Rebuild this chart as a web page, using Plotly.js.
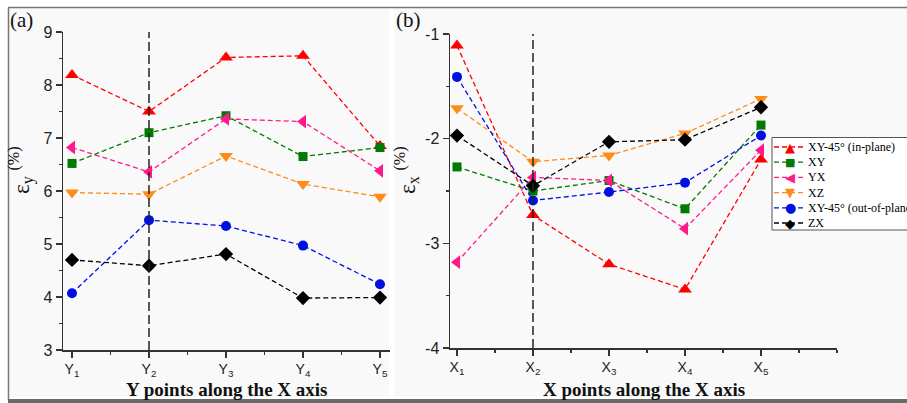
<!DOCTYPE html>
<html>
<head>
<meta charset="utf-8">
<script src="https://cdn.plot.ly/plotly-3.0.1.min.js"></script>
<style>html,body{margin:0;padding:0;background:#fff;overflow:hidden;}#chart{width:907px;height:403px;}</style>
</head>
<body>
<div id="chart"></div>
<script>
// ---------- data ----------
const positions = [1, 2, 3, 4, 5];
const yPointLabels = ["Y<sub>1</sub>", "Y<sub>2</sub>", "Y<sub>3</sub>", "Y<sub>4</sub>", "Y<sub>5</sub>"];
const xPointLabels = ["X<sub>1</sub>", "X<sub>2</sub>", "X<sub>3</sub>", "X<sub>4</sub>", "X<sub>5</sub>"];
const seriesNames = ["XY-45° (in-plane)", "XY", "YX", "XZ", "XY-45° (out-of-plane)", "ZX"];
const xTitleA = "Y points along the X axis";
const xTitleB = "X points along the X axis";

// panel (a): epsilon_y (%) at Y points
const epsY_XY45in  = [8.19, 7.50, 8.52, 8.55, 6.85];
const epsY_XY      = [6.52, 7.10, 7.42, 6.65, 6.82];
const epsY_YX      = [6.82, 6.36, 7.36, 7.31, 6.38];
const epsY_XZ      = [5.97, 5.94, 6.66, 6.13, 5.89];
const epsY_XY45out = [4.07, 5.45, 5.34, 4.97, 4.24];
const epsY_ZX      = [4.70, 4.59, 4.81, 3.98, 3.99];

// panel (b): epsilon_x (%) at X points
const epsX_XY45in  = [-1.11, -2.73, -3.20, -3.44, -2.20];
const epsX_XY      = [-2.27, -2.50, -2.40, -2.67, -1.87];
const epsX_YX      = [-3.18, -2.37, -2.40, -2.86, -2.11];
const epsX_XZ      = [-1.71, -2.22, -2.16, -1.95, -1.62];
const epsX_XY45out = [-1.41, -2.59, -2.51, -2.42, -1.97];
const epsX_ZX      = [-1.97, -2.45, -2.03, -2.01, -1.70];

const yTickVals = [3, 4, 5, 6, 7, 8, 9];
const xTickValsB = [-4, -3, -2, -1];
const xTickTextB = ["-4", "-3", "-2", "-1"];
const refPosition = 2;

// ---------- styles ----------
const colors = ["#ff0000", "#007a00", "#ff1a8c", "#ff8c1a", "#0010e0", "#000000"];
const symbols = ["triangle-up", "square", "triangle-left", "triangle-down", "circle", "diamond"];
const legendGlyphs = ["▲", "■", "◀", "▼", "●", "◆"];
const msizes = [12, 9, 12, 12, 10, 11];
const leftSets = [epsY_XY45in, epsY_XY, epsY_YX, epsY_XZ, epsY_XY45out, epsY_ZX];
const rightSets = [epsX_XY45in, epsX_XY, epsX_YX, epsX_XZ, epsX_XY45out, epsX_ZX];

const traces = [];
for (let i = 0; i < seriesNames.length; i++) {
  traces.push({
    x: positions, y: leftSets[i], xaxis: "x", yaxis: "y", type: "scatter", mode: "lines+markers",
    name: seriesNames[i], showlegend: false,
    line: {color: colors[i], width: 1.3, dash: "5px,3px"},
    marker: {color: colors[i], symbol: symbols[i], size: msizes[i]}
  });
}
for (let i = 0; i < seriesNames.length; i++) {
  traces.push({
    x: positions, y: rightSets[i], xaxis: "x2", yaxis: "y2", type: "scatter", mode: "lines+markers",
    name: seriesNames[i], showlegend: false,
    line: {color: colors[i], width: 1.3, dash: "5px,3px"},
    marker: {color: colors[i], symbol: symbols[i], size: msizes[i]}
  });
}

const W = 907, H = 403;
const px = v => v / W;
const py = v => 1 - v / H;
const serif = "Liberation Serif, Times New Roman, serif";
const sans = "Liberation Sans, Arial, sans-serif";

const axisCommon = {
  showline: true, linecolor: "#333", linewidth: 1.5, mirror: false,
  showgrid: false, zeroline: false, ticks: "outside", ticklen: 6, tickwidth: 1.5, tickcolor: "#333",
  tickfont: {family: sans, size: 16, color: "#222"},
  automargin: false, fixedrange: true
};
const minorY = {ticks: "outside", ticklen: 3, tickwidth: 1.5, tickcolor: "#333", showgrid: false, dtick: 0.5};
const titleFont = {family: serif, size: 19, color: "#111", weight: "bold"};

const shapes = [
  // panel backgrounds
  {type: "rect", xref: "paper", yref: "paper", x0: px(9), x1: px(389), y0: py(397), y1: py(8), fillcolor: "#f9f9f9", line: {width: 0}, layer: "below"},
  {type: "rect", xref: "paper", yref: "paper", x0: px(394), x1: 1, y0: py(397), y1: py(8), fillcolor: "#f9f9f9", line: {width: 0}, layer: "below"},
  // frame lines
  {type: "line", xref: "paper", yref: "paper", x0: px(8), x1: 1, y0: py(7.5), y1: py(7.5), line: {color: "#777", width: 1.5}, layer: "below"},
  {type: "line", xref: "paper", yref: "paper", x0: px(8.5), x1: px(8.5), y0: py(7.5), y1: py(400), line: {color: "#777", width: 1.5}, layer: "below"},
  {type: "rect", xref: "paper", yref: "paper", x0: px(8), x1: 1, y0: 0, y1: py(399), fillcolor: "#6a6a6a", line: {width: 0}, layer: "below"},
  // dashed reference lines at point 2
  {type: "line", xref: "x", yref: "y", x0: refPosition, x1: refPosition, y0: 3, y1: 9, line: {color: "#222", width: 1.5, dash: "9px,4px"}},
  {type: "line", xref: "x2", yref: "y2", x0: refPosition, x1: refPosition, y0: -4, y1: -1, line: {color: "#222", width: 1.5, dash: "9px,4px"}},
  // legend box
  {type: "rect", xref: "paper", yref: "paper", x0: px(772), x1: px(915), y0: py(230), y1: py(137.5), fillcolor: "#ffffff", line: {color: "#555", width: 1}, layer: "above"}
];

const annotations = [
  {xref: "paper", yref: "paper", x: px(21), y: py(20), xanchor: "center", yanchor: "middle", text: "(a)", showarrow: false,
    font: {family: serif, size: 21, color: "#111"}},
  {xref: "paper", yref: "paper", x: px(408), y: py(20), xanchor: "center", yanchor: "middle", text: "(b)", showarrow: false,
    font: {family: serif, size: 21, color: "#111"}},
  {xref: "paper", yref: "paper", x: px(21), y: py(170), xanchor: "center", yanchor: "middle", text: "ε<sub>y</sub> <sup>(%)</sup>", textangle: -90, showarrow: false,
    font: {family: serif, size: 23, color: "#111"}},
  {xref: "paper", yref: "paper", x: px(406), y: py(170), xanchor: "center", yanchor: "middle", text: "ε<sub>x</sub> <sup>(%)</sup>", textangle: -90, showarrow: false,
    font: {family: serif, size: 23, color: "#111"}},
  // x axis titles
  {xref: "x domain", yref: "paper", x: 0.5, y: py(389), xanchor: "center", yanchor: "middle", text: "<b>" + xTitleA + "</b>", showarrow: false, font: titleFont},
  {xref: "x2 domain", yref: "paper", x: 0.5, y: py(389), xanchor: "center", yanchor: "middle", text: "<b>" + xTitleB + "</b>", showarrow: false, font: titleFont}
];

// legend rows (drawn manually so the compact layout matches)
for (let i = 0; i < seriesNames.length; i++) {
  const yc = 147 + 15.2 * i;
  shapes.push({type: "line", xref: "paper", yref: "paper", x0: px(774), x1: px(804), y0: py(yc), y1: py(yc),
    line: {color: colors[i], width: 1.3, dash: "5px,3px"}, layer: "above"});
  annotations.push({xref: "paper", yref: "paper", x: px(790), y: py(yc), xanchor: "center", yanchor: "middle",
    text: legendGlyphs[i], showarrow: false, font: {family: "DejaVu Sans, sans-serif", size: i === 1 ? 11 : 13, color: colors[i]}});
  annotations.push({xref: "paper", yref: "paper", x: px(806), y: py(yc), xanchor: "left", yanchor: "middle",
    text: seriesNames[i], showarrow: false, font: {family: serif, size: 12, color: "#000"}});
}

const layout = {
  width: W, height: H,
  margin: {l: 0, r: 0, t: 0, b: 0, pad: 0},
  paper_bgcolor: "#ffffff", plot_bgcolor: "rgba(0,0,0,0)",
  showlegend: false,
  xaxis: Object.assign({}, axisCommon, {
    domain: [px(63), px(390)], range: [0.883, 5.13], anchor: "y",
    tickmode: "array", tickvals: positions, ticktext: yPointLabels,
    tickfont: {family: sans, size: 14, color: "#222"},
    minor: {tickmode: "linear", tick0: 0.5, dtick: 0.5, ticks: "outside", ticklen: 3, tickwidth: 1.5, tickcolor: "#333", showgrid: false}
  }),
  yaxis: Object.assign({}, axisCommon, {
    domain: [1 - 350 / H, 1 - 32 / H], range: [3, 9], anchor: "x",
    tickmode: "array", tickvals: yTickVals,
    minor: Object.assign({tickmode: "linear", tick0: 0.5}, minorY)
  }),
  xaxis2: Object.assign({}, axisCommon, {
    domain: [px(450), px(837)], range: [0.908, 6.0], anchor: "y2",
    tickmode: "array", tickvals: positions, ticktext: xPointLabels,
    tickfont: {family: sans, size: 14, color: "#222"},
    minor: {tickmode: "linear", tick0: 0.5, dtick: 0.5, ticks: "outside", ticklen: 3, tickwidth: 1.5, tickcolor: "#333", showgrid: false}
  }),
  yaxis2: Object.assign({}, axisCommon, {
    domain: [1 - 348 / H, 1 - 34 / H], range: [-4, -1], anchor: "x2",
    tickmode: "array", tickvals: xTickValsB, ticktext: xTickTextB,
    minor: Object.assign({tickmode: "linear", tick0: -0.5}, minorY)
  }),
  shapes: shapes,
  annotations: annotations
};

Plotly.newPlot("chart", traces, layout, {displayModeBar: false, staticPlot: true});
</script>
</body>
</html>
